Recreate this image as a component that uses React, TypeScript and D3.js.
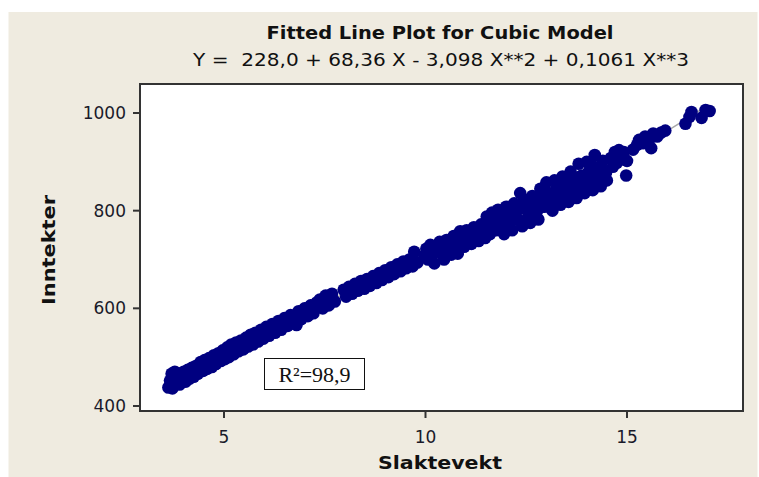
import React from 'react';
import * as d3 from 'd3';

// Slaktevekt (x) and Inntekter (y)
const slaktevekt: number[] = [
  3.62, 3.66, 3.7, 3.72, 3.75, 3.78, 3.8, 3.85, 3.9, 3.95, 4.0, 4.05, 4.1, 4.15, 4.2, 4.25, 4.3, 4.35,
  4.42, 4.48, 4.52, 4.58, 4.63, 4.7, 4.75, 4.8, 4.86, 4.92, 4.97, 5.02,
  5.08, 5.12, 5.18, 5.24, 5.3, 5.36, 5.42, 5.48, 5.55, 5.6, 5.66, 5.72, 5.78, 5.85, 5.92, 5.98,
  6.05, 6.12, 6.2, 6.27, 6.35, 6.42,
  6.5, 6.58, 6.65, 6.72, 6.8, 6.85, 6.92, 7.0, 7.08, 7.15, 7.22, 7.3, 7.38, 7.45, 7.52, 7.6, 7.68, 7.75,
  7.97, 8.03, 8.1, 8.18, 8.25, 8.32, 8.4, 8.48, 8.55, 8.62, 8.7, 8.78, 8.85, 8.92, 9.0, 9.08, 9.15,
  9.22, 9.3, 9.38, 9.45, 9.52, 9.6, 9.68, 9.72, 9.8,
  9.97, 10.02, 10.06, 10.12, 10.18, 10.22, 10.28, 10.35, 10.4, 10.46, 10.52, 10.58, 10.64, 10.7,
  10.75, 10.8, 10.86, 10.9, 10.96, 11.02, 11.08, 11.14, 11.2, 11.26, 11.32, 11.38, 11.44, 11.48,
  10.1, 10.32, 10.55, 10.78, 11.0, 11.22, 11.42,
  11.52, 11.56, 11.6, 11.65, 11.7, 11.75, 11.8, 11.85, 11.9, 11.95, 12.0, 12.05, 12.1, 12.15, 12.2,
  12.25, 12.3, 12.35, 12.4, 12.45, 12.5, 12.55, 12.6, 12.65, 12.7, 12.75, 12.8, 12.85, 12.9, 12.95,
  13.0, 13.05, 13.1, 13.15, 13.2, 13.25, 13.3, 13.35, 13.4, 13.45, 13.5, 13.55, 13.6, 13.65, 13.7,
  13.75, 13.8, 13.85, 13.9, 13.95, 14.0, 14.05, 14.1, 14.15, 14.2, 14.25, 14.3, 14.35, 14.4, 14.45,
  11.62, 11.78, 11.92, 12.08, 12.22, 12.38, 12.52, 12.68, 12.82, 12.98, 13.12, 13.28, 13.42, 13.58,
  13.72, 13.88, 14.02, 14.18, 14.32, 14.48,
  14.5, 14.6, 14.65, 14.7, 14.75, 14.8, 14.85, 14.92, 15.0, 14.98,
  15.15, 15.25, 15.3, 15.4, 15.45, 15.55, 15.6, 15.65, 15.75, 15.85, 15.95,
  16.45, 16.55, 16.6, 16.85, 16.95, 17.05,
];

const inntekter: number[] = [
  438, 452, 466, 436, 460, 470, 446, 462, 444, 466, 470, 450, 474, 456, 478, 460, 482, 466,
  490, 472, 494, 476, 498, 480, 504, 486, 508, 492, 514, 496,
  520, 500, 526, 506, 530, 512, 534, 516, 540, 522, 546, 526, 550, 532, 556, 538,
  562, 544, 568, 550, 574, 556,
  580, 564, 586, 570, 566, 594, 578, 600, 584, 606, 590, 612, 618, 600, 626, 606, 630, 614,
  638, 624, 644, 630, 650, 636, 656, 640, 660, 646, 666, 652, 672, 658, 678, 664, 684,
  670, 690, 676, 696, 682, 700, 686, 716, 694,
  708, 722, 700, 730, 712, 692, 724, 736, 712, 700, 740, 724, 710, 748,
  732, 712, 758, 740, 726, 760, 746, 732, 766, 750, 738, 772, 756, 744,
  718, 720, 730, 740, 748, 758, 764,
  788, 770, 752, 796, 778, 760, 802, 785, 768, 752, 808, 792, 775, 760, 815,
  798, 782, 836, 768, 822, 805, 788, 775, 830, 812, 796, 782, 845, 826, 808,
  858, 836, 818, 800, 862, 845, 828, 812, 870, 852, 835, 818, 880, 860, 842,
  826, 896, 870, 852, 836, 900, 880, 860, 842, 914, 888, 868, 850, 902, 880,
  780, 790, 795, 800, 790, 805, 820, 818, 805, 840, 830, 840, 858, 850,
  862, 872, 870, 890, 884, 878,
  862, 908, 890, 920, 898, 924, 905, 920, 902, 872,
  925, 935, 945, 938, 952, 945, 928, 958, 952, 960, 964,
  978, 992, 1002, 990, 1006, 1004,
];

// fitted cubic from the subtitle
const coef = [228.0, 68.36, -3.098, 0.1061];

const xTicks = [5, 10, 15];
const yTicks = [400, 600, 800, 1000];

const W = 759;
const H = 477;
const frame = { left: 140, top: 84, right: 743, bottom: 411 };
const font = 'DejaVu Sans, Verdana, sans-serif';

const App: React.FC = () => {
  const x = d3.scaleLinear().domain([5, 15]).range([224, 627]);
  const y = d3.scaleLinear().domain([400, 1000]).range([406, 113]);

  const pts = slaktevekt.map((v, i) => ({ x: v, y: inntekter[i] }));
  const xMin = d3.min(slaktevekt) as number;
  const xMax = d3.max(slaktevekt) as number;
  const fitX = d3.range(xMin, xMax + 0.001, 0.05);
  const fit = (t: number) => coef[0] + coef[1] * t + coef[2] * t * t + coef[3] * t * t * t;
  const line = d3
    .line<number>()
    .x((t) => x(t))
    .y((t) => y(fit(t)));

  return (
    <svg width={W} height={H} style={{ position: 'absolute', left: 0, top: 0 }}>
      <rect x={0} y={0} width={W} height={H} fill="#ffffff" />
      <rect x={8.5} y={12} width={749} height={465} fill="#efebe0" />

      <text x={440} y={39} textAnchor="middle" fontFamily={font} fontWeight="bold" fontSize={17}
        textLength={347} lengthAdjust="spacingAndGlyphs" fill="#111">
        Fitted Line Plot for Cubic Model
      </text>
      <text x={441} y={66} textAnchor="middle" fontFamily={font} fontSize={17}
        textLength={496} lengthAdjust="spacingAndGlyphs" fill="#111" style={{ whiteSpace: 'pre' }}>
        {'Y =  228,0 + 68,36 X - 3,098 X**2 + 0,1061 X**3'}
      </text>

      <rect x={frame.left} y={frame.top} width={frame.right - frame.left} height={frame.bottom - frame.top}
        fill="#ffffff" />

      <defs>
        <clipPath id="plotclip">
          <rect x={frame.left} y={frame.top} width={frame.right - frame.left} height={frame.bottom - frame.top} />
        </clipPath>
      </defs>
      <g clipPath="url(#plotclip)">
        <path d={line(fitX) || ''} fill="none" stroke="#a8a8a8" strokeWidth={1.5} />
        {pts.map((p, i) => (
          <circle key={i} cx={x(p.x)} cy={y(p.y)} r={6.3} fill="#000080" />
        ))}
      </g>

      <rect x={frame.left} y={frame.top} width={frame.right - frame.left} height={frame.bottom - frame.top}
        fill="none" stroke="#333" strokeWidth={2} />

      {xTicks.map((t) => (
        <g key={t}>
          <line x1={x(t)} x2={x(t)} y1={frame.bottom} y2={frame.bottom + 7} stroke="#333" strokeWidth={2} />
          <text x={x(t)} y={443} textAnchor="middle" fontFamily={font} fontSize={17} fill="#1a1a2a">
            {t}
          </text>
        </g>
      ))}
      {yTicks.map((t) => (
        <g key={t}>
          <line x1={frame.left - 7} x2={frame.left} y1={y(t)} y2={y(t)} stroke="#333" strokeWidth={2} />
          <text x={126} y={y(t) + 6} textAnchor="end" fontFamily={font} fontSize={17} fill="#1a1a2a">
            {t}
          </text>
        </g>
      ))}

      <text x={440} y={469} textAnchor="middle" fontFamily={font} fontWeight="bold" fontSize={18}
        textLength={124} lengthAdjust="spacingAndGlyphs" fill="#111">
        Slaktevekt
      </text>
      <text transform="translate(55,250) rotate(-90)" textAnchor="middle" fontFamily={font} fontWeight="bold"
        fontSize={18} textLength={110} lengthAdjust="spacingAndGlyphs" fill="#111">
        Inntekter
      </text>

      <rect x={264.5} y={358.5} width={100} height={31} fill="#ffffff" stroke="#111" strokeWidth={1} />
      <text x={314.5} y={382} textAnchor="middle" fontFamily="Liberation Serif, DejaVu Serif, serif" fontSize={22}
        fill="#111">
        R²=98,9
      </text>
    </svg>
  );
};

export default App;
